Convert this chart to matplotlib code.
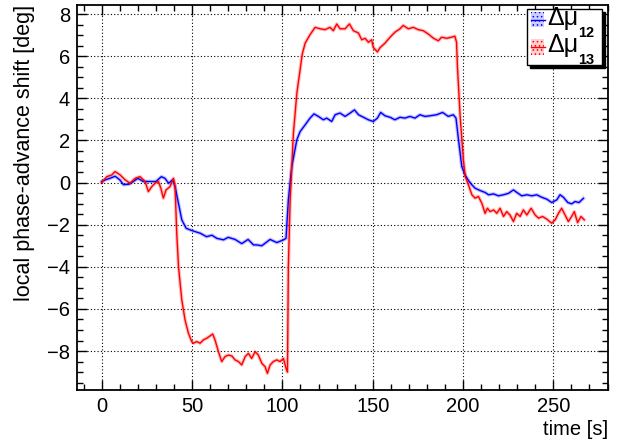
import matplotlib
matplotlib.use('Agg')
import matplotlib.pyplot as plt
from matplotlib.patches import Rectangle
from matplotlib.ticker import MultipleLocator

plt.rcParams['font.family'] = ['Liberation Sans', 'DejaVu Sans']
plt.rcParams['hatch.linewidth'] = 0.6

# (time [s], shift [deg])
blue_pts = [
    (0, 0.05), (2, 0.13), (4.5, 0.2), (7.4, 0.3), (10, 0.13), (12, -0.1),
    (15, -0.08), (16.6, 0.0), (20, 0.2), (23, 0.05), (26, 0.05), (30, 0.05),
    (33, 0.28), (35, 0.2), (37, -0.03), (39.3, 0.13), (40.6, -0.2),
    (42.5, -1.0), (44.3, -1.77), (46.7, -2.17), (49, -2.25), (51.7, -2.33),
    (54.4, -2.4), (58, -2.57), (61, -2.5), (63.7, -2.65), (67.4, -2.72),
    (70, -2.6), (73.8, -2.7), (77.5, -2.9), (81, -2.7), (84, -2.96),
    (85.8, -2.96), (88.6, -3.0), (93.2, -2.7), (96.9, -2.85), (100.6, -2.72),
    (102, -2.65), (103.3, -0.82), (105.2, 0.76), (108, 2.03), (109.8, 2.42),
    (112.6, 2.74), (115.3, 3.06), (117.5, 3.26), (119.9, 3.14), (122.7, 2.98),
    (124.5, 3.06), (127.3, 2.9), (129.2, 3.22), (131.9, 3.3), (134.7, 3.14),
    (137.5, 3.3), (139.9, 3.45), (142.1, 3.22), (144.9, 3.1), (147.6, 2.98),
    (150.3, 2.9), (152.6, 3.06), (154.4, 3.33), (156.8, 3.17), (159.6, 3.1),
    (162.3, 2.98), (165.1, 3.1), (167.8, 3.06), (170.6, 3.14), (173.4, 3.06),
    (176.1, 3.22), (178.9, 3.14), (181.7, 3.17), (185.4, 3.22), (188.7, 3.33),
    (191.8, 3.14), (194.6, 3.22), (196.1, 3.06), (197.5, 2.03), (199.3, 0.76),
    (201.2, 0.35), (203, 0.1), (204.9, -0.11), (206.7, -0.27), (209.5, -0.38),
    (212.2, -0.47), (214.1, -0.58), (216.9, -0.54), (219.6, -0.63),
    (222.4, -0.58), (225.2, -0.51), (227.9, -0.35), (229.8, -0.47),
    (232.5, -0.63), (235.3, -0.58), (238.1, -0.63), (240.8, -0.58),
    (243.6, -0.7), (246.4, -0.79), (249.1, -0.95), (251.9, -0.82),
    (253.7, -0.58), (255.6, -0.7), (258, -0.95), (260.2, -1.01), (262, -0.9),
    (264.2, -0.95), (266.6, -0.75)]

red_pts = [
    (0, 0.0), (2.8, 0.28), (5.5, 0.36), (7.4, 0.52), (10.2, 0.36),
    (12.9, 0.13), (15.7, -0.03), (18.5, 0.2), (21.2, 0.28), (24, 0.05),
    (25.8, -0.43), (27.7, -0.19), (29.5, -0.03), (31.4, 0.05), (32.7, -0.27),
    (34.1, -0.74), (35.6, -0.35), (37.8, -0.19), (39.7, 0.2), (40.6, -0.19),
    (41.5, -2.4), (42.5, -4.0), (44.3, -5.57), (46.1, -6.52), (48, -7.16),
    (49.8, -7.55), (50.7, -7.63), (52.6, -7.55), (54.4, -7.63), (56.3, -7.47),
    (58.1, -7.39), (60, -7.28), (61.4, -7.19), (62.7, -7.47), (64.6, -8.03),
    (66.4, -8.5), (68.3, -8.26), (70.1, -8.19), (72, -8.23), (73.8, -8.42),
    (75.7, -8.5), (77.5, -8.66), (79.4, -8.26), (81.2, -8.11), (83, -8.35),
    (84.9, -8.03), (86.7, -8.19), (88.6, -8.58), (90.4, -8.74), (91.7, -9.06),
    (93.2, -8.66), (95, -8.5), (96.9, -8.42), (98.7, -8.5), (100.6, -8.35),
    (102, -8.82), (102.8, -9.0), (103.3, -4.0), (104.3, -0.82), (106.1, 2.34),
    (108, 4.24), (109.8, 5.35), (111, 6.1), (112.6, 6.62), (115.3, 7.02),
    (118.1, 7.37), (120.9, 7.3), (123.6, 7.26), (126.4, 7.37), (128.2, 7.21),
    (130.1, 7.53), (131.9, 7.3), (134.7, 7.3), (137.1, 7.53), (139.3, 7.21),
    (142.1, 7.1), (143.9, 6.78), (145.8, 6.85), (147.6, 6.66), (149.4, 6.78),
    (150.3, 6.42), (152.6, 6.2), (154, 6.4), (156.8, 6.62), (159.6, 6.9),
    (162.3, 7.14), (165.1, 7.3), (166.9, 7.46), (169.7, 7.3), (172.5, 7.37),
    (175.2, 7.26), (178, 7.21), (180.8, 7.05), (183.5, 6.86), (186.3, 6.73),
    (188.1, 6.9), (190.9, 6.85), (193.6, 6.9), (195.5, 6.95), (196.4, 6.66),
    (196.9, 5.5), (198.4, 3.14), (200.2, 1.08), (201.2, 0.29), (203, -0.11),
    (204.9, -0.58), (206.7, -0.74), (208.5, -0.66), (210.4, -0.98),
    (212.2, -1.46), (213.5, -1.22), (215, -1.38), (216.9, -1.3),
    (218.7, -1.46), (220.5, -1.22), (222.4, -1.61), (224.2, -1.38),
    (226, -1.54), (227.9, -1.85), (229.7, -1.46), (231.6, -1.61),
    (233.4, -1.3), (235.3, -1.54), (237.7, -1.22), (239.9, -1.54),
    (241.8, -1.69), (244, -1.61), (246.4, -1.74), (249.1, -1.93), (251, -1.77),
    (252.8, -1.46), (254.6, -1.22), (256.5, -1.54), (258.3, -1.85),
    (260.1, -1.61), (261.6, -1.38), (263.4, -1.9), (265.3, -1.61),
    (267.1, -1.77)]

series = [('12', blue_pts, '#0000ff', '#d0d0ff'),
          ('13', red_pts, '#ff0000', '#ffd0d0')]

fig = plt.figure(figsize=(6.19, 4.43), dpi=100)
ax = fig.add_axes([0.1244, 0.1196, 0.8574, 0.8691])

for name, pts, col, light in series:
    t, mu = zip(*pts)
    ax.plot(t, mu, color=col, lw=2.6, alpha=0.25, zorder=3)
    ax.plot(t, mu, color=col, lw=1.0, zorder=4)

ax.set_xlim(-13.7, 280.1)
ax.set_ylim(-9.85, 8.43)
ax.xaxis.set_major_locator(MultipleLocator(50))
ax.xaxis.set_minor_locator(MultipleLocator(10))
ax.yaxis.set_major_locator(MultipleLocator(2))
ax.yaxis.set_minor_locator(MultipleLocator(0.5))
ax.tick_params(which='both', direction='in', top=True, right=True,
               labelsize=14.5, width=1)
ax.tick_params(which='major', length=7, pad=5)
ax.tick_params(which='minor', length=4.3)
ax.grid(True, which='major', color='black', linestyle=(0, (1, 2)), lw=0.8)
for s in ax.spines.values():
    s.set_linewidth(1.3)

ax.set_xlabel('time [s]', loc='right', fontsize=14.5, labelpad=3)
ax.set_ylabel('local phase-advance shift [deg]', loc='top', fontsize=15.5,
              labelpad=9)

# ROOT-style legend box with shadow, drawn in axes fractions
box_x0, box_x1, box_y0, box_y1 = 0.848, 0.989, 0.8442, 0.9896
sh = 0.005
ax.add_patch(Rectangle((box_x0 + sh, box_y0 - sh * 1.4), box_x1 - box_x0,
                       box_y1 - box_y0, transform=ax.transAxes, color='black',
                       zorder=9, clip_on=False))
ax.add_patch(Rectangle((box_x0, box_y0), box_x1 - box_x0, box_y1 - box_y0,
                       transform=ax.transAxes, facecolor='white',
                       edgecolor='black', lw=1, zorder=10, clip_on=False))
rows = [(0.9429, 0.9818, 0.948, 0.917), (0.8701, 0.9117, 0.878, 0.846)]
for (name, pts, col, light), (py0, py1, base, subbase) in zip(series, rows):
    ax.add_patch(Rectangle((0.8559, py0), 0.0245, py1 - py0,
                           transform=ax.transAxes, facecolor=light,
                           edgecolor=col, hatch='....', lw=0, zorder=11))
    ax.plot([0.8559, 0.8823], [(py0 + py1) / 2] * 2, color=col, lw=1.0,
            transform=ax.transAxes, zorder=12, clip_on=False)
    ax.text(0.8856, base, '\u0394\u03bc', transform=ax.transAxes,
            fontsize=18, va='baseline', ha='left', zorder=12)
    ax.text(0.9445, subbase, name, transform=ax.transAxes, fontsize=10.5,
            fontweight='bold', va='baseline', ha='left', zorder=12)

fig.savefig('out.png', dpi=100)
